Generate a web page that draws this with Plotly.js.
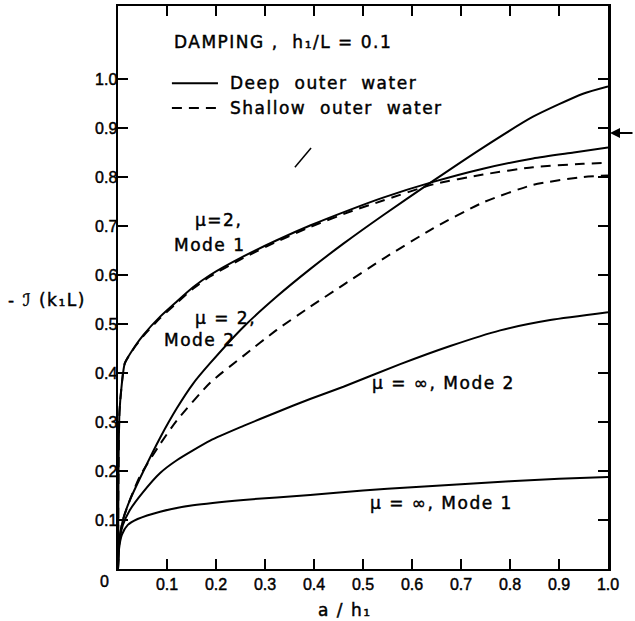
<!DOCTYPE html>
<html>
<head>
<meta charset="utf-8">
<script src="https://cdn.plot.ly/plotly-3.0.1.min.js"></script>
<style>
html,body{margin:0;padding:0;background:#fff;}
.annotation-text { letter-spacing: 1.5px; }
.main-svg text { stroke:#000; stroke-width:0.45px; }
</style>
</head>
<body>
<div id="chart" style="width:635px;height:621px;"></div>
<script>
// ---- data ----
const xTickVals = [0.1,0.2,0.3,0.4,0.5,0.6,0.7,0.8,0.9,1.0];
const xTickText = ["0.1","0.2","0.3","0.4","0.5","0.6","0.7","0.8","0.9","1.0"];
const yTickVals = [0.1,0.2,0.3,0.4,0.5,0.6,0.7,0.8,0.9,1.0];
const yTickText = ["0.1","0.2","0.3","0.4","0.5","0.6","0.7","0.8","0.9","1.0"];

// mu = 2, Mode 1, deep outer water (solid)
const m2m1DeepX = [0,0.001,0.003,0.008,0.014,0.035,0.052,0.086,0.12,0.153,0.188,0.256,0.324,0.392,0.473,0.541,0.643,0.745,0.847,0.93,1.0];
const m2m1DeepY = [0,0.2,0.32,0.38,0.42,0.455,0.478,0.515,0.546,0.575,0.6,0.638,0.671,0.701,0.733,0.758,0.79,0.817,0.838,0.85,0.86];
// mu = 2, Mode 1, shallow outer water (dashed)
const m2m1ShalX = [0,0.001,0.003,0.008,0.014,0.035,0.052,0.086,0.12,0.153,0.188,0.256,0.324,0.392,0.473,0.541,0.643,0.745,0.847,0.949,1.0];
const m2m1ShalY = [0,0.2,0.32,0.38,0.42,0.454,0.476,0.512,0.543,0.572,0.597,0.635,0.668,0.698,0.729,0.752,0.785,0.805,0.82,0.827,0.829];
// mu = 2, Mode 2, deep (solid)
const m2m2DeepX = [0,0.003,0.01,0.024,0.052,0.086,0.12,0.153,0.188,0.256,0.324,0.392,0.46,0.541,0.643,0.745,0.847,0.949,1.0];
const m2m2DeepY = [0,0.06,0.1,0.14,0.2,0.268,0.328,0.378,0.42,0.494,0.556,0.612,0.664,0.722,0.792,0.86,0.923,0.97,0.985];
// mu = 2, Mode 2, shallow (dashed)
const m2m2ShalX = [0,0.003,0.01,0.024,0.045,0.086,0.12,0.188,0.256,0.324,0.392,0.46,0.541,0.643,0.745,0.847,0.949,1.0];
const m2m2ShalY = [0,0.06,0.1,0.14,0.19,0.255,0.303,0.38,0.435,0.488,0.535,0.58,0.633,0.695,0.748,0.784,0.8,0.803];
// mu = infinity, Mode 2 (solid)
const minfm2X = [0,0.003,0.01,0.024,0.052,0.086,0.12,0.188,0.256,0.324,0.392,0.46,0.576,0.678,0.78,0.882,1.0];
const minfm2Y = [0,0.06,0.09,0.12,0.158,0.196,0.222,0.262,0.292,0.32,0.347,0.372,0.418,0.455,0.487,0.508,0.524];
// mu = infinity, Mode 1 (solid)
const minfm1X = [0,0.002,0.008,0.02,0.04,0.086,0.153,0.256,0.392,0.5,0.6,0.7,0.8,0.9,1.0];
const minfm1Y = [0,0.04,0.07,0.09,0.102,0.117,0.13,0.141,0.151,0.16,0.167,0.173,0.179,0.184,0.188];

const seriesNames = ["Deep\u00a0 outer\u00a0 water","Shallow\u00a0 outer\u00a0 water"];

const solid = {color:'#000', width:2, shape:'spline', smoothing:0.6};
const dashed = {color:'#000', width:2, dash:'10px,7px', shape:'spline', smoothing:0.6};

const traces = [
  {x:m2m1DeepX, y:m2m1DeepY, mode:'lines', line:solid, name:seriesNames[0]},
  {x:m2m1ShalX, y:m2m1ShalY, mode:'lines', line:dashed, name:seriesNames[1]},
  {x:m2m2DeepX, y:m2m2DeepY, mode:'lines', line:solid, name:seriesNames[0]},
  {x:m2m2ShalX, y:m2m2ShalY, mode:'lines', line:dashed, name:seriesNames[1]},
  {x:minfm2X, y:minfm2Y, mode:'lines', line:solid, name:seriesNames[0]},
  {x:minfm1X, y:minfm1Y, mode:'lines', line:solid, name:seriesNames[0]}
];

const txtFont = {family:'DejaVu Sans', size:17, color:'#000'};
const tickFont = {family:'Liberation Sans', size:16, color:'#000'};

const ann = (text,x,y,xa,extra) => Object.assign({text:text, x:x, y:y, xref:'x', yref:'y', xanchor:xa, yanchor:'middle', showarrow:false, font:txtFont}, extra||{});
const pann = (text,x,y,xa,extra) => Object.assign({text:text, x:x, y:y, xref:'paper', yref:'paper', xanchor:xa, yanchor:'middle', showarrow:false, font:txtFont}, extra||{});

const layout = {
  width:635, height:621,
  margin:{l:118, r:27, t:6, b:52},
  paper_bgcolor:'#fff', plot_bgcolor:'#fff',
  showlegend:false,
  xaxis:{range:[0,1.0], tickvals:xTickVals, ticktext:xTickText, ticks:'inside', ticklen:10, tickwidth:2, tickcolor:'#000',
         showline:true, linewidth:2, linecolor:'#000', mirror:'ticks', showgrid:false, zeroline:false, tickfont:tickFont},
  yaxis:{range:[0,1.149], tickvals:yTickVals, ticktext:yTickText, ticks:'inside', ticklen:10, tickwidth:2, tickcolor:'#000',
         showline:true, linewidth:2.5, linecolor:'#000', mirror:'ticks', showgrid:false, zeroline:false, tickfont:tickFont,
         ticklabelstandoff:-5},
  annotations:[
    pann('0', -0.0265, -0.023, 'center', {font:tickFont}),
    pann('- ℐ (k₁L)', -0.061, 0.478, 'right'),
    pann('a / h₁', 0.463, -0.0728, 'center'),
    ann('DAMPING ,\u00a0 h₁/L = 0.1', 0.110, 1.0755, 'left'),
    pann(seriesNames[0], 0.2245, 0.863, 'left'),
    pann(seriesNames[1], 0.2245, 0.819, 'left'),
    ann('μ=2,', 0.153, 0.712, 'left'),
    ann('Mode 1', 0.110, 0.661, 'left'),
    ann('μ = 2,', 0.153, 0.512, 'left'),
    ann('Mode 2', 0.090, 0.467, 'left'),
    ann('μ = ∞, Mode 2', 0.514, 0.380, 'left'),
    ann('μ = ∞, Mode 1', 0.51, 0.135, 'left'),
    {text:'', x:1.0, y:0.89, xref:'x', yref:'y', showarrow:true, ax:26, ay:0, arrowhead:2, arrowsize:1, arrowwidth:2, arrowcolor:'#000', standoff:2}
  ],
  shapes:[
    {type:'line', xref:'paper', yref:'paper', x0:0.110, y0:0.863, x1:0.204, y1:0.863, line:{color:'#000', width:2}},
    {type:'line', xref:'paper', yref:'paper', x0:0.110, y0:0.819, x1:0.204, y1:0.819, line:{color:'#000', width:2, dash:'10px,7px'}},
    {type:'line', xref:'x', yref:'y', x0:0.361, y0:0.82, x1:0.394, y1:0.859, line:{color:'#000', width:1.5}}
  ]
};

Plotly.newPlot('chart', traces, layout, {displayModeBar:false, staticPlot:true});
</script>
</body>
</html>
